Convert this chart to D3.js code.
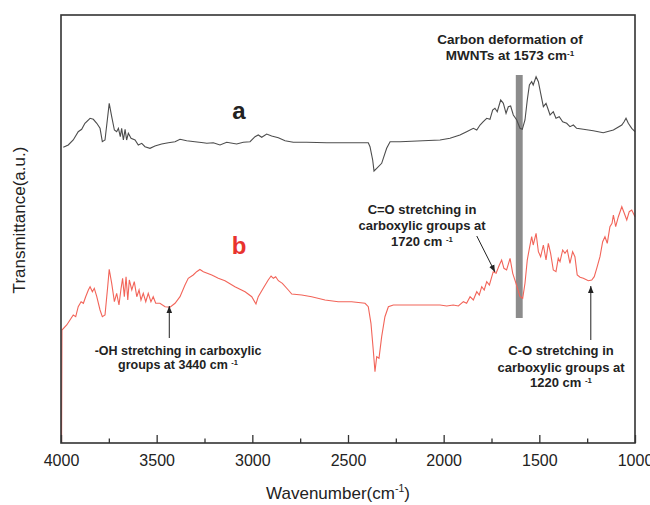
<!DOCTYPE html>
<html><head><meta charset="utf-8">
<script src="https://cdn.jsdelivr.net/npm/d3@7"></script>
<style>body{margin:0;background:#fff}svg{display:block}text{font-family:"Liberation Sans",Arial,sans-serif}</style>
</head><body>
<svg id="c" width="650" height="505"></svg>
<script>
// ---- data (wavenumber in cm-1, transmittance in a.u.) ----
const waveA = [3988,3962,3936,3910,3892,3875,3848,3831,3813,3796,3784,3770,3756,3748,3735,3721,3709,3700,3690,3683,3674,3665,3657,3648,3634,3613,3596,3578,3561,3535,3509,3474,3439,3404,3378,3343,3300,3256,3238,3204,3169,3134,3082,3047,3012,2986,2969,2951,2925,2899,2864,2829,2786,2716,2611,2507,2394,2385,2371,2364,2350,2324,2298,2280,2228,2019,1967,1915,1880,1845,1827,1810,1793,1775,1758,1744,1732,1720,1702,1688,1674,1662,1650,1636,1618,1601,1589,1575,1563,1552,1540,1532,1517,1505,1493,1479,1465,1456,1444,1427,1413,1396,1378,1357,1340,1322,1305,1270,1218,1166,1113,1069,1057,1047,1035,1017,1000];
const transA = [295.7,298,303,311.3,313.7,319.7,324.7,323.7,319.7,314.7,301.3,303,326.3,339.7,326.3,313,311.3,314.7,306.3,314.7,303,313.7,303,309.7,304.7,303,298,299.7,296.3,294.7,297,299,300.3,301.3,303.7,302.3,301.3,300.3,299.7,300.3,298,300.7,299,300.7,301.3,306.3,308,305.7,309,307,305.3,302.3,300.7,300.7,300.3,300.3,300.3,296.3,283,272,274.7,279.7,294.7,301.3,301.3,303,304.7,308,311.3,314.7,313,318,321.3,324.7,323.7,333,334.7,331.3,343,339.7,329.7,336.3,337,328,323,314.7,313.7,323,343,358,361.3,358,366.3,361.3,349.7,336.3,339.7,334.7,328,331.3,324.7,326.3,321.3,319.7,316.3,318,314.7,313.7,312.3,310.3,313,318,321.3,324.7,319.7,314.7,311.3];
const waveB = [3997,3995,3970,3953,3936,3923,3910,3895,3883,3871,3857,3848,3836,3826,3813,3796,3784,3770,3756,3748,3735,3721,3709,3697,3686,3678,3669,3660,3651,3643,3630,3617,3604,3592,3582,3570,3557,3544,3530,3518,3505,3483,3456,3430,3404,3378,3352,3335,3309,3291,3274,3256,3212,3178,3143,3091,3038,3003,2981,2969,2943,2917,2902,2890,2878,2864,2843,2812,2794,2742,2690,2620,2551,2481,2411,2394,2380,2368,2359,2350,2338,2324,2307,2289,2263,2019,1984,1950,1923,1897,1880,1862,1845,1827,1814,1801,1788,1775,1761,1741,1726,1709,1697,1685,1671,1653,1639,1622,1601,1587,1575,1563,1552,1540,1532,1517,1505,1493,1479,1465,1453,1441,1427,1413,1401,1392,1378,1366,1354,1340,1326,1314,1302,1287,1270,1244,1226,1213,1200,1183,1169,1157,1145,1131,1120,1113,1101,1087,1069,1056,1043,1030,1017,1000];
const transB = [0,113,118,123,128,126.3,136.3,141.3,139.7,146.3,153,156.3,151.3,154.7,146.3,133,126.3,128,156.3,173.7,159.7,141.3,149.7,138,154.7,164.7,146.3,166.3,143,163,153,161.3,146.3,153,143,149.7,141.3,149.7,141.3,146.3,139.7,139.7,136.3,135.7,139.7,146.3,158,164.7,168,171.3,173.5,171.3,168,164.7,162.3,156.3,151.3,146.3,139,146.3,154.7,163,167,164.7,166.3,162.3,159.7,153,149,148,146.3,143,141.3,141.3,139.7,136.3,119.7,93,71.3,86.3,84.7,106.3,126.3,136.3,138,138,137,138,137,141.3,139.7,146.3,143,151.3,148,156.3,153,161.3,158,171.3,169.7,178,183,174.7,173,184.7,169.7,159.7,146.3,144.7,159.7,183,194.7,206.3,198,209.7,191.3,186.3,198,183,199.7,189.7,173,171.3,184.7,181.3,193,189.7,193,179.7,191.3,186.3,168,165.7,164.7,162.3,163,166.3,174.7,186.3,201.3,206.3,199.7,216.3,219.7,228,216.3,226.3,236.3,229.7,223,231.3,233,226.3];
const xTicks = [4000,3500,3000,2500,2000,1500,1000];
const xMinorTicks = [3750,3250,2750,2250,1750,1250];
const band = [1623,1587];          // highlighted band (cm-1)
const bandRange = [125,368];       // vertical extent of band (a.u.)

const svg = d3.select("#c");
const L=61,R=635,T=15,B=443;
const x = d3.scaleLinear().domain([4000,1000]).range([L,R]);
const y = d3.scaleLinear().domain([0,428]).range([B,T]);

// band
svg.append("rect").attr("x",x(band[0])).attr("width",x(band[1])-x(band[0]))
  .attr("y",y(bandRange[1])).attr("height",y(bandRange[0])-y(bandRange[1]))
  .attr("fill","#8c8c8c");

const line = d3.line().x(d=>x(d[0])).y(d=>y(d[1]));
svg.append("path").datum(waveA.map((w,i)=>[w,transA[i]]))
  .attr("d",line).attr("fill","none").attr("stroke","#4d4d4d").attr("stroke-width",1.1);
svg.append("path").datum(waveB.map((w,i)=>[w,transB[i]]))
  .attr("d",line).attr("fill","none").attr("stroke","#f26459").attr("stroke-width",1.1);

// frame
svg.append("rect").attr("x",L).attr("y",T).attr("width",R-L).attr("height",B-T)
  .attr("fill","none").attr("stroke","#333").attr("stroke-width",1.6);

// bottom axis with inward ticks
const ax = svg.append("g").attr("transform",`translate(0,${B})`)
  .call(d3.axisBottom(x).tickValues(xTicks).tickSizeInner(-8).tickSizeOuter(0).tickPadding(12).tickFormat(d3.format("d")));
ax.select(".domain").remove();
ax.selectAll(".tick line").attr("stroke","#333").attr("stroke-width",1.3);
ax.selectAll(".tick text").attr("font-size",16).attr("fill","#222").attr("font-family","Liberation Sans, Arial, sans-serif");
const axm = svg.append("g").attr("transform",`translate(0,${B})`)
  .call(d3.axisBottom(x).tickValues(xMinorTicks).tickSizeInner(-4.5).tickSizeOuter(0).tickFormat(""));
axm.select(".domain").remove();
axm.selectAll(".tick line").attr("stroke","#333").attr("stroke-width",1.3);

// axis titles
const xt = svg.append("text").attr("x",338).attr("y",499).attr("text-anchor","middle")
  .attr("font-size",17).attr("fill","#222");
xt.append("tspan").text("Wavenumber(cm");
xt.append("tspan").attr("font-size",10.5).attr("dy",-7).text("-1");
xt.append("tspan").attr("dy",7).text(")");
svg.append("text").attr("transform","translate(25,220) rotate(-90)").attr("text-anchor","middle")
  .attr("font-size",17).attr("fill","#222").text("Transmittance(a.u.)");

// series labels
svg.append("text").attr("x",239).attr("y",119).attr("text-anchor","middle").attr("font-size",24)
  .attr("font-weight","bold").attr("fill","#222").text("a");
svg.append("text").attr("x",239).attr("y",254).attr("text-anchor","middle").attr("font-size",24)
  .attr("font-weight","bold").attr("fill","#e8332e").text("b");

// annotations
function note(cx, ys, lines, size){
  lines.forEach((ln,i)=>{
    const t = svg.append("text").attr("x",cx).attr("y",ys[i]).attr("text-anchor","middle")
      .attr("font-size",size).attr("font-weight","bold").attr("fill","#222");
    if (ln.sup){
      t.append("tspan").text(ln.txt);
      t.append("tspan").attr("font-size",size*0.6).attr("dy",-4).text(ln.sup);
    } else t.text(ln.txt);
  });
}
note(510,[44,60],[{txt:"Carbon deformation of"},{txt:"MWNTs at 1573 cm",sup:"-1"}],13.5);
note(178,[355,369],[{txt:"-OH stretching in carboxylic"},{txt:"groups at 3440 cm ",sup:"-1"}],12.5);
note(422,[214,230,246],[{txt:"C=O stretching in"},{txt:"carboxylic groups at"},{txt:"1720 cm ",sup:"-1"}],13);
note(561,[355,372,387],[{txt:"C-O stretching in"},{txt:"carboxylic groups at"},{txt:"1220 cm ",sup:"-1"}],13);

svg.append("defs").append("marker").attr("id","ah").attr("viewBox","0 0 10 10")
  .attr("refX",10).attr("refY",5).attr("markerWidth",7).attr("markerHeight",7).attr("orient","auto")
  .append("path").attr("d","M0,1 L10,5 L0,9 Z").attr("fill","#222");
function arrow(w0,v0,w1,v1){
  svg.append("line").attr("x1",x(w0)).attr("y1",y(v0)).attr("x2",x(w1)).attr("y2",y(v1))
    .attr("stroke","#222").attr("stroke-width",1).attr("marker-end","url(#ah)");
}
arrow(3434,105,3434,137);
arrow(1827,207,1732,171);
arrow(1231,103,1231,157);
</script>
</body></html>
